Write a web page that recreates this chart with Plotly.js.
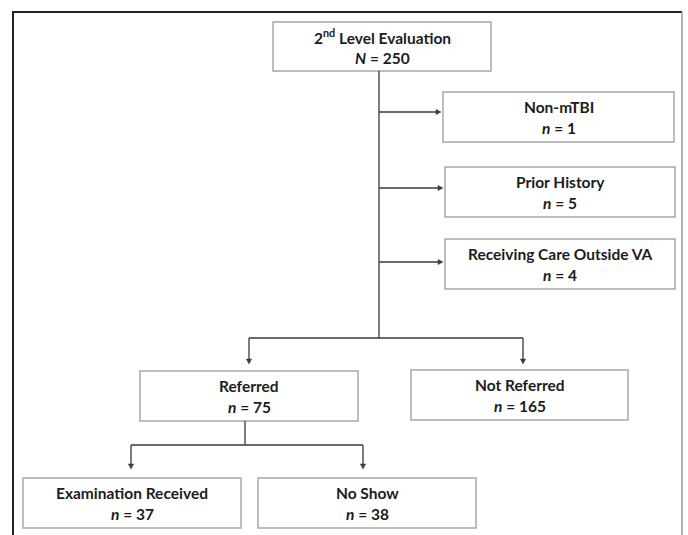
<!DOCTYPE html>
<html>
<head>
<meta charset="utf-8">
<script src="https://cdn.plot.ly/plotly-3.0.1.min.js"></script>
<style>html,body{margin:0;padding:0;background:#fff;}#chart{width:688px;height:535px;}</style>
</head>
<body>
<div id="chart"></div>
<script>
// ---- data ----
const nodeIds = ['root', 'nonmtbi', 'prior', 'outside', 'referred', 'notreferred', 'exam', 'noshow'];
const nodeLabels = ['2<sup>nd</sup> Level Evaluation', 'Non-mTBI', 'Prior History', 'Receiving Care Outside VA',
  'Referred', 'Not Referred', 'Examination Received', 'No Show'];
const countSymbols = ['N', 'n', 'n', 'n', 'n', 'n', 'n', 'n'];
const counts = [250, 1, 5, 4, 75, 165, 37, 38];

// ---- layout geometry (pixel space) ----
const boxes = {
  root:        {x0: 273, x1: 491, y0: 22,  y1: 71},
  nonmtbi:     {x0: 443, x1: 674, y0: 92,  y1: 142},
  prior:       {x0: 445, x1: 675, y0: 167, y1: 217},
  outside:     {x0: 445, x1: 675, y0: 239, y1: 289},
  referred:    {x0: 140, x1: 358, y0: 371, y1: 421},
  notreferred: {x0: 411, x1: 628, y0: 370, y1: 420},
  exam:        {x0: 23,  x1: 241, y0: 478, y1: 528},
  noshow:      {x0: 258, x1: 476, y0: 478, y1: 528}
};
const lineColor = '#3a3a3a';
const boxColor = '#a8a8a8';
const textColor = '#1c1c1c';
const fontSpec = {family: 'Lato, Carlito, sans-serif', size: 15.5, color: textColor};

const shapes = [];
const annotations = [];

// outer frame
shapes.push({type: 'line', xref: 'x', yref: 'y', x0: 12, x1: 682, y0: 12, y1: 12, line: {color: '#222', width: 2}});
shapes.push({type: 'line', xref: 'x', yref: 'y', x0: 13, x1: 13, y0: 12, y1: 540, line: {color: '#222', width: 2}});
shapes.push({type: 'line', xref: 'x', yref: 'y', x0: 682, x1: 682, y0: 12, y1: 540, line: {color: '#999', width: 1.5}});

nodeIds.forEach((id, i) => {
  const b = boxes[id];
  shapes.push({type: 'rect', xref: 'x', yref: 'y', x0: b.x0, x1: b.x1, y0: b.y0, y1: b.y1,
    line: {color: boxColor, width: 1.5}, fillcolor: 'rgba(0,0,0,0)'});
  const cx = (b.x0 + b.x1) / 2, cy = (b.y0 + b.y1) / 2;
  annotations.push({x: cx, y: cy - 10, xref: 'x', yref: 'y', showarrow: false,
    text: '<b>' + nodeLabels[i] + '</b>', font: fontSpec});
  annotations.push({x: cx, y: cy + 11, xref: 'x', yref: 'y', showarrow: false,
    text: '<b><i>' + countSymbols[i] + '</i> = ' + counts[i] + '</b>', font: fontSpec});
});

function seg(x0, y0, x1, y1) {
  shapes.push({type: 'line', xref: 'x', yref: 'y', x0: x0, y0: y0, x1: x1, y1: y1, line: {color: lineColor, width: 1.3}});
}
// arrow: line + small triangle head at (x1,y1)
function arrow(x0, y0, x1, y1) {
  const L = 5, W = 2.6;
  let p;
  if (y0 === y1) { // horizontal, pointing right
    seg(x0, y0, x1 - L + 1, y1);
    p = `M ${x1} ${y1} L ${x1 - L} ${y1 - W} L ${x1 - L} ${y1 + W} Z`;
  } else { // vertical, pointing down
    seg(x0, y0, x1, y1 - L + 1);
    p = `M ${x1} ${y1} L ${x1 - W} ${y1 - L} L ${x1 + W} ${y1 - L} Z`;
  }
  shapes.push({type: 'path', xref: 'x', yref: 'y', path: p, fillcolor: lineColor, line: {color: lineColor, width: 0.5}});
}

// main trunk
seg(379, 71, 379, 338);
arrow(379, 112, 441, 112);
arrow(379, 188, 443, 188);
arrow(379, 262, 443, 262);
seg(249, 338, 523, 338);
arrow(249, 338, 249, 364);
arrow(523, 338, 523, 364);
// referred split
seg(245, 421, 245, 445);
seg(131, 445, 363, 445);
arrow(131, 445, 131, 469);
arrow(363, 445, 363, 469);

const layout = {
  width: 688, height: 535,
  margin: {l: 0, r: 0, t: 0, b: 0},
  paper_bgcolor: '#fff', plot_bgcolor: '#fff',
  xaxis: {range: [0, 688], visible: false, fixedrange: true},
  yaxis: {range: [535, 0], visible: false, fixedrange: true},
  shapes: shapes,
  annotations: annotations,
  showlegend: false
};
Plotly.newPlot('chart', [], layout, {displayModeBar: false, staticPlot: true});
</script>
</body>
</html>
